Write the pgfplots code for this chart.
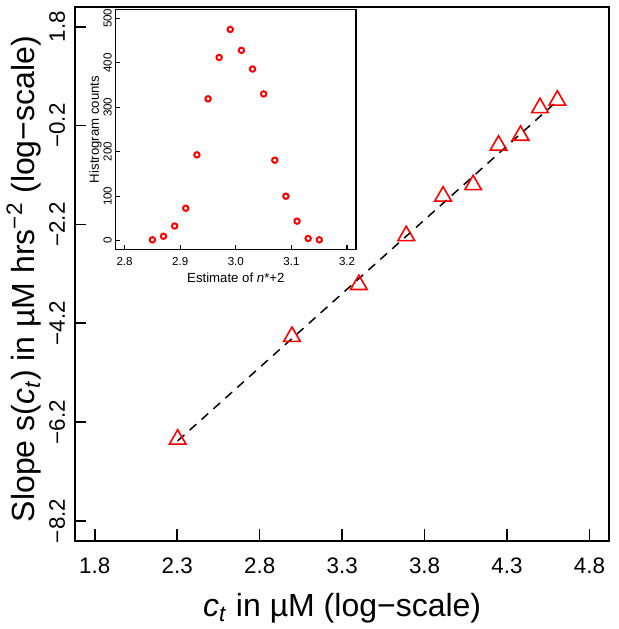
\documentclass[border=0pt]{standalone}
\usepackage{fontspec}
\setmainfont{Liberation Sans}
\usepackage{pgfplots}
\pgfplotsset{compat=1.18}
\begin{document}
\begin{tikzpicture}
\useasboundingbox (0,0) rectangle (309.5pt,314.5pt);
\begin{axis}[
  at={(37.5pt,44.15pt)}, anchor=south west,
  scale only axis, width=267.15pt, height=266.85pt,
  xmin=1.68, xmax=4.92, ymin=-8.6, ymax=2.2,
  xtick={1.8,2.3,2.8,3.3,3.8,4.3,4.8},
  xticklabels={1.8,2.3,2.8,3.3,3.8,4.3,4.8},
  ytick={-8.2,-6.2,-4.2,-2.2,-0.2,1.8},
  yticklabels={−8.2,−6.2,−4.2,−2.2,−0.2,1.8},
  tick pos=left, tick align=inside, major tick length=5.75pt,
  tick style={black, line width=0.8pt},
  axis line style={line width=0.9pt},
  xticklabel style={font=\fontsize{11.2}{13}\selectfont, anchor=base, inner sep=0pt, yshift=-16.5pt},
  yticklabel style={font=\fontsize{11.2}{13}\selectfont, xshift=-5pt, rotate=90, anchor=base, inner sep=0pt},
  xlabel={\textit{c}\textsubscript{\textit{t}} in µM (log−scale)},
  xlabel style={font=\fontsize{16}{19}\selectfont, at={(axis description cs:0.5,-0.1414)}, anchor=base, inner sep=0pt},
  ylabel={Slope s(\textit{c}\textsubscript{\textit{t}}) in µM hrs\textsuperscript{−2} (log−scale)},
  ylabel style={font=\fontsize{16}{19}\selectfont, at={(axis description cs:-0.0955,0.49)}, anchor=center, inner sep=0pt},
]
\addplot[black, dash pattern=on 4.5pt off 3.5pt, line width=0.75pt] coordinates {(2.302585,-6.58) (4.605170,0.30)};
\addplot[only marks, mark=triangle, mark size=4.8pt, mark options={red, line width=0.8pt}] coordinates {
(2.302585,-6.55) (2.995732,-4.47) (3.401197,-3.42) (3.688879,-2.43) (3.912023,-1.63)
(4.094345,-1.40) (4.248495,-0.60) (4.382027,-0.40) (4.499810,0.16) (4.605170,0.31)};
\end{axis}
\begin{axis}[
  at={(57.85pt,189.7pt)}, anchor=south west,
  scale only axis, width=120.15pt, height=120.1pt,
  xmin=2.784, xmax=3.216, ymin=-20, ymax=520,
  xtick={2.8,2.9,3.0,3.1,3.2}, xticklabels={2.8,2.9,3.0,3.1,3.2},
  ytick={0,100,200,300,400,500}, yticklabels={0,100,200,300,400,500},
  axis background/.style={fill=white},
  tick pos=left, tick align=inside, major tick length=2.2pt,
  tick style={black, line width=0.6pt},
  axis line style={line width=0.8pt},
  xticklabel style={font=\fontsize{5.8}{7}\selectfont, anchor=base, inner sep=0pt, yshift=-7.7pt},
  yticklabel style={font=\fontsize{5.8}{7}\selectfont, xshift=-2pt, rotate=90, anchor=base, inner sep=0pt},
  xlabel={Estimate of \textit{n}*+2},
  xlabel style={font=\fontsize{6.6}{8}\selectfont, at={(axis description cs:0.5,-0.138)}, anchor=base, inner sep=0pt},
  ylabel={Histrogram counts},
  ylabel style={font=\fontsize{6.6}{8}\selectfont, at={(axis description cs:-0.07,0.5)}, anchor=base, inner sep=0pt},
]
\addplot[only marks, mark=o, mark size=1.35pt, mark options={red, line width=1pt}] coordinates {
(2.85,2) (2.87,10) (2.89,33) (2.91,73) (2.93,193) (2.95,319) (2.97,412) (2.99,475)
(3.01,428) (3.03,386) (3.05,330) (3.07,181) (3.09,100) (3.11,44) (3.13,5) (3.15,2)};
\end{axis}
\end{tikzpicture}
\end{document}
